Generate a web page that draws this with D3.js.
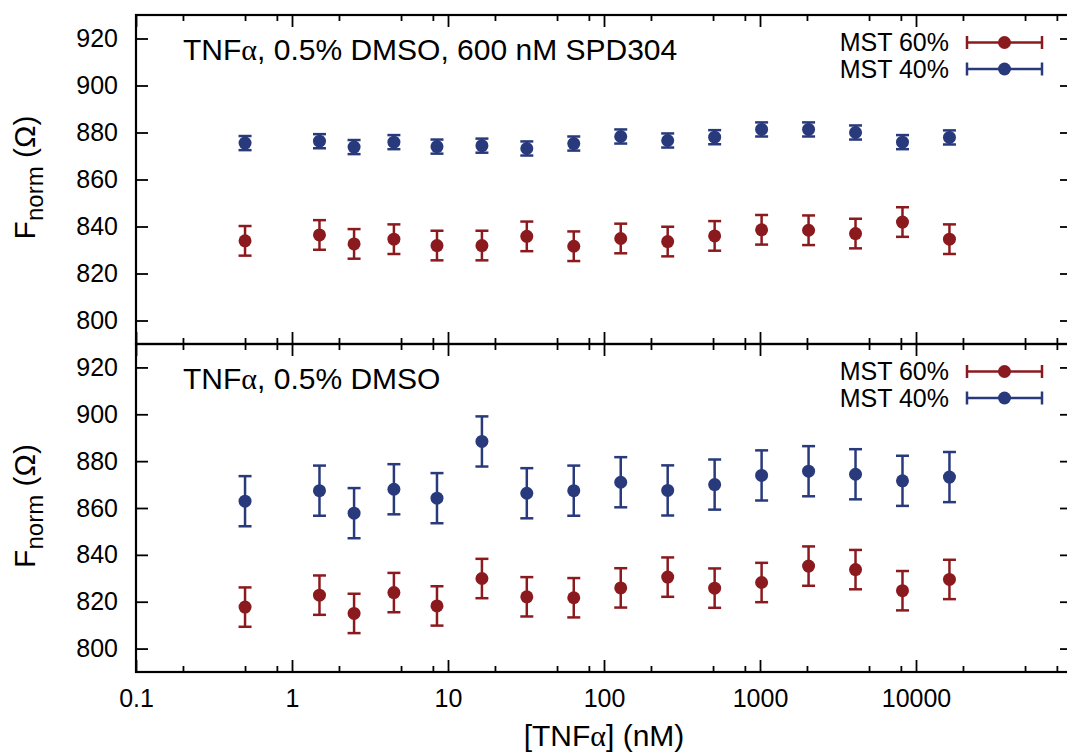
<!DOCTYPE html>
<html>
<head>
<meta charset="utf-8">
<script src="https://cdn.jsdelivr.net/npm/d3@7"></script>
<style>
  body { margin: 0; background: #fff; }
  svg { display: block; font-family: "Liberation Sans", Arial, Helvetica, sans-serif; }
</style>
</head>
<body>
<svg id="chart" width="1067" height="752"></svg>
<script>
// ---- data ----
const conc = [0.5, 1.5, 2.5, 4.5, 8.5, 16.5, 32, 64, 128, 256, 512, 1024, 2048, 4096, 8192, 16384];

const topMST60    = [833.9, 836.4, 832.6, 834.6, 831.9, 831.9, 835.8, 831.6, 834.9, 833.6, 836.0, 838.6, 838.4, 837.0, 841.9, 834.6];
const topMST60err = [6.3, 6.3, 6.3, 6.3, 6.3, 6.3, 6.3, 6.3, 6.3, 6.3, 6.3, 6.3, 6.3, 6.3, 6.3, 6.3];
const topMST40    = [875.5, 876.3, 873.8, 875.9, 874.0, 874.4, 873.2, 875.3, 878.3, 876.6, 878.0, 881.3, 881.3, 880.0, 875.9, 877.9];
const topMST40err = [3.0, 3.0, 3.0, 3.0, 3.0, 3.0, 3.0, 3.0, 3.0, 3.0, 3.0, 3.0, 3.0, 3.0, 3.0, 3.0];

const botMST60    = [817.7, 822.8, 815.0, 823.9, 818.2, 829.9, 822.1, 821.7, 825.9, 830.5, 825.8, 828.2, 835.2, 833.7, 824.7, 829.5];
const botMST60err = [8.4, 8.4, 8.4, 8.4, 8.4, 8.4, 8.4, 8.4, 8.4, 8.4, 8.4, 8.4, 8.4, 8.4, 8.4, 8.4];
const botMST40    = [862.9, 867.4, 857.8, 868.0, 864.2, 888.4, 866.3, 867.4, 871.0, 867.5, 870.0, 873.9, 875.7, 874.4, 871.6, 873.2];
const botMST40err = [10.7, 10.7, 10.7, 10.7, 10.7, 10.7, 10.7, 10.7, 10.7, 10.7, 10.7, 10.7, 10.7, 10.7, 10.7, 10.7];

const seriesNames = ["MST 60%", "MST 40%"];
// titles split around the Greek alpha so it can use a serif (Symbol-like) face
const panelTitles = [["TNF", "\u03b1", ", 0.5% DMSO, 600 nM SPD304"], ["TNF", "\u03b1", ", 0.5% DMSO"]];
const xLabelParts = ["[TNF", "\u03b1", "] (nM)"];
const xMajorTicks = [0.1, 1, 10, 100, 1000, 10000, 100000];
const xTickLabels = ["0.1", "1", "10", "100", "1000", "10000", ""];
const xMinorTicks = [0.2, 0.5, 0.8, 2, 5, 8, 20, 50, 80, 200, 500, 800, 2000, 5000, 8000, 20000, 50000, 80000];
const yTicks = [800, 820, 840, 860, 880, 900, 920];

// ---- styles ----
const RED = "#8b1a1f";
const BLUE = "#283a7c";
const FONT_TICK = 25;

const svg = d3.select("#chart");
const xLeft = 136, xRight = 1072;
const x = d3.scaleLog().domain([0.1, 100000]).range([xLeft, xRight]);

function greekText(sel, parts) {
  parts.forEach((t, i) => {
    const ts = sel.append("tspan").text(t);
    if (i === 1) ts.attr("font-family", "Liberation Serif, DejaVu Serif, serif");
  });
}

const panels = [
  { top: 15, bottom: 344, title: panelTitles[0],
    series: [ {name: seriesNames[0], color: RED, v: topMST60, e: topMST60err},
              {name: seriesNames[1], color: BLUE, v: topMST40, e: topMST40err} ], showX: false },
  { top: 344, bottom: 672, title: panelTitles[1],
    series: [ {name: seriesNames[0], color: RED, v: botMST60, e: botMST60err},
              {name: seriesNames[1], color: BLUE, v: botMST40, e: botMST40err} ], showX: true }
];

panels.forEach((p, pi) => {
  const y = d3.scaleLinear().domain([790, 930]).range([p.bottom, p.top]);
  const g = svg.append("g");

  const yl = g.append("g").attr("transform", `translate(${xLeft},0)`)
    .call(d3.axisLeft(y).tickValues(yTicks).tickSize(-12).tickPadding(18));
  const yr = g.append("g").attr("transform", `translate(${xRight},0)`)
    .call(d3.axisRight(y).tickValues(yTicks).tickSize(-12).tickFormat(""));
  const xt = g.append("g").attr("transform", `translate(0,${p.top})`)
    .call(d3.axisTop(x).tickValues(xMajorTicks).tickSize(-12).tickFormat(""));
  const xtm = g.append("g").attr("transform", `translate(0,${p.top})`)
    .call(d3.axisTop(x).tickValues(xMinorTicks).tickSize(-6).tickFormat(""));
  const xb = g.append("g").attr("transform", `translate(0,${p.bottom})`)
    .call(d3.axisBottom(x).tickValues(xMajorTicks).tickSize(-12).tickPadding(17)
      .tickFormat((d, i) => p.showX ? xTickLabels[i] : ""));
  const xbm = g.append("g").attr("transform", `translate(0,${p.bottom})`)
    .call(d3.axisBottom(x).tickValues(xMinorTicks).tickSize(-6).tickFormat(""));

  [yl, yr, xt, xtm, xb, xbm].forEach(a => {
    a.select(".domain").remove();
    a.selectAll(".tick line").attr("stroke", "#000").attr("stroke-width", 1.8);
    a.selectAll(".tick text").attr("fill", "#000").attr("font-size", FONT_TICK)
      .attr("font-family", "Liberation Sans, Arial, sans-serif");
  });

  g.append("rect").attr("x", xLeft).attr("y", p.top)
    .attr("width", xRight - xLeft).attr("height", p.bottom - p.top)
    .attr("fill", "none").attr("stroke", "#000").attr("stroke-width", 2.2);

  const tt = g.append("text").attr("x", 183).attr("y", p.top + 45)
    .attr("font-size", 30).attr("fill", "#000");
  greekText(tt, p.title);

  p.series.forEach(s => {
    const sg = g.append("g");
    const pts = conc.map((c, i) => ({ c, v: s.v[i], e: s.e[i] }));
    const cap = 6.5;
    sg.selectAll("line.eb").data(pts).join("line").attr("class", "eb")
      .attr("x1", d => x(d.c)).attr("x2", d => x(d.c))
      .attr("y1", d => y(d.v - d.e)).attr("y2", d => y(d.v + d.e))
      .attr("stroke", s.color).attr("stroke-width", 2.5);
    sg.selectAll("line.cap-lo").data(pts).join("line").attr("class", "cap-lo")
      .attr("x1", d => x(d.c) - cap).attr("x2", d => x(d.c) + cap)
      .attr("y1", d => y(d.v - d.e)).attr("y2", d => y(d.v - d.e))
      .attr("stroke", s.color).attr("stroke-width", 2.5);
    sg.selectAll("line.cap-hi").data(pts).join("line").attr("class", "cap-hi")
      .attr("x1", d => x(d.c) - cap).attr("x2", d => x(d.c) + cap)
      .attr("y1", d => y(d.v + d.e)).attr("y2", d => y(d.v + d.e))
      .attr("stroke", s.color).attr("stroke-width", 2.5);
    sg.selectAll("circle").data(pts).join("circle")
      .attr("cx", d => x(d.c)).attr("cy", d => y(d.v)).attr("r", 6.5)
      .attr("fill", s.color);
  });

  p.series.forEach((s, si) => {
    const ly = p.top + 27.5 + si * 26.5;
    const lg = g.append("g");
    lg.append("text").attr("x", 949).attr("y", ly).attr("dy", "0.35em")
      .attr("text-anchor", "end").attr("font-size", FONT_TICK).attr("fill", "#000").text(s.name);
    lg.append("line").attr("x1", 967).attr("x2", 1042).attr("y1", ly).attr("y2", ly)
      .attr("stroke", s.color).attr("stroke-width", 2.5);
    [967, 1042].forEach(cx => lg.append("line").attr("x1", cx).attr("x2", cx)
      .attr("y1", ly - 6.5).attr("y2", ly + 6.5).attr("stroke", s.color).attr("stroke-width", 2.5));
    lg.append("circle").attr("cx", 1004.5).attr("cy", ly).attr("r", 6.5).attr("fill", s.color);
  });

  const cy = (p.top + p.bottom) / 2 - 2;
  const yt = g.append("text").attr("transform", `translate(35,${cy}) rotate(-90)`)
    .attr("text-anchor", "middle").attr("font-size", 30).attr("fill", "#000");
  yt.append("tspan").text("F");
  yt.append("tspan").attr("font-size", 24).attr("dy", 8).text("norm");
  yt.append("tspan").attr("dy", -8).text(" (\u03a9)");
});

const xl = svg.append("text").attr("x", (xLeft + xRight) / 2).attr("y", 746)
  .attr("text-anchor", "middle").attr("font-size", 30).attr("fill", "#000");
greekText(xl, xLabelParts);
</script>
</body>
</html>
